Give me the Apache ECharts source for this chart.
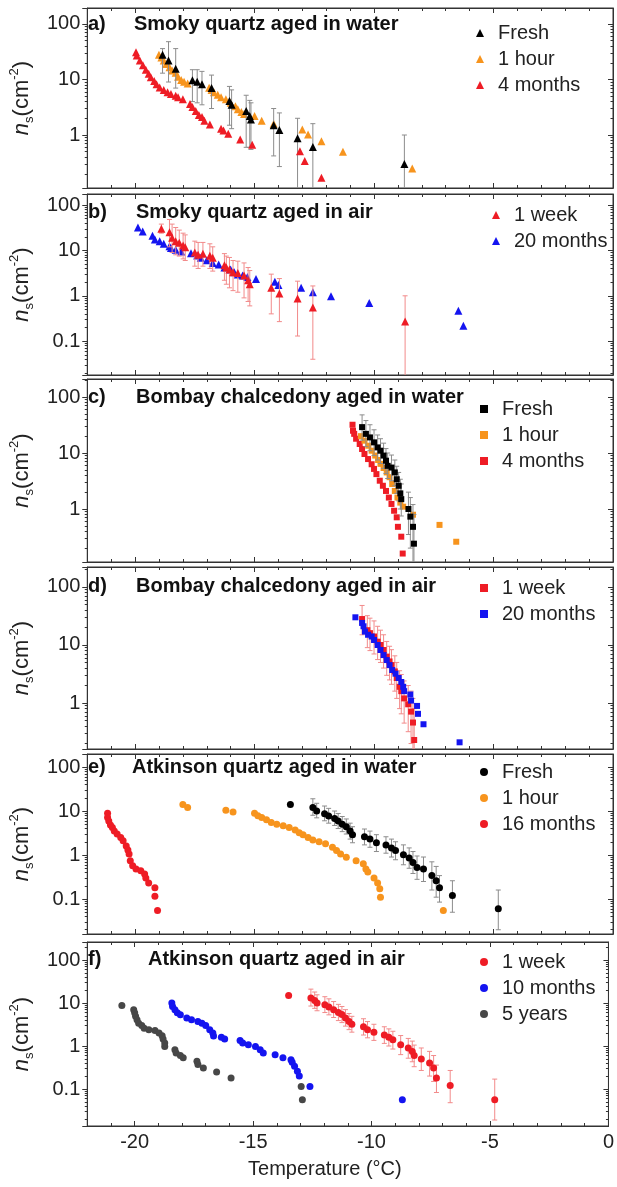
<!DOCTYPE html>
<html><head><meta charset="utf-8">
<script src="https://cdn.jsdelivr.net/npm/echarts@6/dist/echarts.min.js"></script>
<style>html,body{margin:0;padding:0;background:#fff}#c{width:617px;height:1187px}</style>
</head><body><div id="c"></div>
<script>
// ---------------- DATA ----------------
const xLabelValues = [-20, -15, -10, -5, 0];
const yLabelValues = [0.1, 1, 10, 100];
const panelLetters = ['a)', 'b)', 'c)', 'd)', 'e)', 'f)'];
const panelTitles = ['Smoky quartz aged in water', 'Smoky quartz aged in air', 'Bombay chalcedony aged in water',
  'Bombay chalcedony aged in air', 'Atkinson quartz aged in water', 'Atkinson quartz aged in air'];

// a) Smoky quartz aged in water  [T (°C), ns (cm^-2)]
const a_fresh = [[-18.85,28],[-18.6,22],[-18.3,15.6],[-17.6,9.7],[-17.4,9.1],[-17.2,8.2],[-16.8,7.0],[-16.05,4.1],[-15.96,3.5],[-15.35,2.7],[-15.2,2.2],[-15.15,1.9],[-14.2,1.5],[-13.96,1.23],[-13.2,0.87],[-12.56,0.61],[-8.73,0.3]];
const a_fresh_err = [[13,36],[9,48],[7,36],[4,15],[3.8,15],[3.5,14],[3,12],[1.5,7.5],[1.3,6.5],[0.6,5.2],[0.6,4.2],[0.55,3.8],[0.42,3.0],[0.27,2.5],[0.05,2.0],[0.05,1.6],[0.05,1.0]];
const a_1hour = [[-19.0,28],[-18.9,25],[-18.8,22],[-18.7,19],[-18.56,16.6],[-18.45,14.5],[-18.3,13.2],[-18.2,11.2],[-18.07,9.8],[-17.95,9.1],[-17.8,8.5],[-16.9,7.1],[-16.8,6.5],[-16.7,5.9],[-16.54,5.3],[-16.4,4.8],[-16.2,4.4],[-16.0,3.8],[-15.8,3.3],[-15.7,2.9],[-15.55,2.6],[-15.44,2.4],[-15.0,2.2],[-14.7,1.8],[-14.2,1.6],[-13.0,1.26],[-12.76,1.02],[-12.2,0.77],[-11.3,0.5],[-8.4,0.25]];
const a_4months = [[-19.96,31],[-19.93,27],[-19.8,22],[-19.67,18],[-19.55,15],[-19.43,12.7],[-19.34,11],[-19.2,9.4],[-19.1,8.2],[-18.97,7.2],[-18.8,6.5],[-18.64,5.9],[-18.5,5.5],[-18.3,5.1],[-18.2,4.8],[-18.0,4.4],[-17.7,3.6],[-17.6,3.2],[-17.46,2.7],[-17.33,2.3],[-17.2,2.1],[-17.1,1.8],[-16.87,1.55],[-16.4,1.3],[-16.3,1.2],[-16.1,1.05],[-15.6,0.83],[-15.1,0.67],[-13.1,0.51],[-12.9,0.34],[-12.2,0.17]];

// b) Smoky quartz aged in air
const b_1week = [[-18.9,30],[-18.56,25],[-18.45,19],[-18.3,16],[-18.15,14.7],[-17.99,12.8],[-17.9,11.7],[-17.5,9],[-17.36,8],[-17.16,8.4],[-16.87,7.6],[-16.75,6.9],[-16.26,4.7],[-16.18,4.2],[-16.05,3.8],[-15.9,3.3],[-15.7,3.2],[-15.44,2.8],[-15.27,2.2],[-15.2,1.8],[-14.3,1.5],[-13.96,1.12],[-13.2,0.87],[-12.56,0.55],[-8.7,0.27]];
const b_1week_err = [[24,38],[12,48],[9,38],[8,32],[7.5,28],[6.5,24],[6,22],[4.5,16],[4,15],[4.5,15],[4,14],[3.5,12],[2.2,8.5],[1.8,7.5],[1.5,7],[1.3,6],[1.2,5.8],[0.9,5.3],[0.75,4.2],[0.6,3.6],[0.4,3.0],[0.27,2.4],[0.13,2.1],[0.04,1.65],[0.005,1.0]];
const b_20months = [[-19.88,32],[-19.68,26],[-19.27,21],[-19.17,17.5],[-18.97,16],[-18.8,14],[-18.56,12.3],[-18.5,11.3],[-18.3,10.4],[-18.07,9.5],[-17.66,8.7],[-17.4,7.7],[-17.25,6.9],[-17.0,6.1],[-16.75,5.3],[-16.5,4.9],[-16.26,4.2],[-16.0,3.8],[-15.85,3.3],[-15.7,2.95],[-15.5,2.8],[-15.3,2.6],[-14.94,2.35],[-14.15,2.05],[-14.0,1.74],[-13.05,1.5],[-12.56,1.2],[-11.8,0.98],[-10.2,0.69],[-6.47,0.47],[-6.26,0.22]];

// c) Bombay chalcedony aged in water
const c_fresh = [[-10.5,29],[-10.34,22],[-10.17,19],[-10.0,15.5],[-9.85,12.6],[-9.73,11],[-9.6,9],[-9.5,7.3],[-9.43,5.9],[-9.27,5.5],[-9.13,4.5],[-9.05,3.4],[-8.97,2.6],[-8.9,1.9],[-8.86,1.5],[-8.56,1.0],[-8.48,0.73],[-8.37,0.48],[-8.33,0.24]];
const c_fresh_err = [[17,48],[13,38],[11,32],[9,26],[7.5,21],[6.5,18],[5.3,15],[4.3,12],[3.5,10],[3.2,9.2],[2.6,7.5],[1.9,5.8],[1.4,4.5],[1.0,3.4],[0.75,2.8],[0.35,2.0],[0.2,1.6],[0.1,1.2],[0.03,0.8]];
const c_1hour = [[-10.55,20],[-10.4,16.6],[-10.24,13.5],[-10.1,11],[-9.95,9],[-9.83,7.5],[-9.73,6.4],[-9.6,5.4],[-9.47,4.5],[-9.35,3.7],[-9.24,2.8],[-9.13,2.1],[-9.02,1.6],[-8.9,1.3],[-8.78,1.1],[-8.37,0.79],[-7.26,0.52],[-6.56,0.26]];
const c_4months = [[-10.9,32],[-10.88,25],[-10.83,22],[-10.75,18],[-10.6,14.5],[-10.5,11.8],[-10.4,9.6],[-10.25,7.8],[-10.1,6.3],[-10.0,5.2],[-9.9,4.2],[-9.76,3.2],[-9.63,2.6],[-9.5,2.1],[-9.38,1.6],[-9.27,1.23],[-9.16,0.93],[-9.05,0.71],[-9.0,0.48],[-8.86,0.32],[-8.8,0.16]];

// d) Bombay chalcedony aged in air
const d_1week = [[-10.5,28],[-10.28,18],[-10.17,16],[-10.0,14],[-9.85,11.4],[-9.73,10],[-9.6,8.2],[-9.47,6.3],[-9.35,5.2],[-9.27,4.5],[-9.13,3.5],[-9.05,2.7],[-8.93,1.9],[-8.86,1.6],[-8.74,1.2],[-8.57,0.95],[-8.45,0.71],[-8.37,0.46],[-8.32,0.23]];
const d_1week_err = [[15,48],[9,32],[8,29],[7,26],[5.6,21],[5,18],[4,15],[3,11.5],[2.5,9.5],[2.1,8.3],[1.6,6.5],[1.2,5],[0.8,3.6],[0.65,3.1],[0.45,2.4],[0.32,2.0],[0.2,1.6],[0.1,1.2],[0.04,0.8]];
const d_20months = [[-10.78,30],[-10.5,24],[-10.44,21],[-10.38,17],[-10.25,15],[-10.1,14],[-10.0,12.2],[-9.85,10],[-9.73,8.2],[-9.6,6.7],[-9.47,5.5],[-9.35,4.5],[-9.24,3.7],[-9.1,3.2],[-8.97,2.7],[-8.86,2.3],[-8.78,1.9],[-8.74,1.6],[-8.48,1.4],[-8.45,1.1],[-8.2,0.89],[-8.16,0.65],[-7.93,0.43],[-6.42,0.21]];

// e) Atkinson quartz aged in water
const e_fresh = [[-13.5,14],[-12.56,12],[-12.4,10],[-12.07,8.7],[-11.9,7.7],[-11.65,6.8],[-11.5,5.9],[-11.33,5],[-11.16,4.4],[-11.0,3.5],[-10.9,2.9],[-10.4,2.6],[-10.17,2.3],[-9.9,1.9],[-9.5,1.7],[-9.27,1.45],[-9.1,1.26],[-8.77,1.02],[-8.53,0.85],[-8.37,0.68],[-8.2,0.52],[-7.93,0.48],[-7.58,0.34],[-7.4,0.26],[-7.26,0.18],[-6.72,0.12],[-4.8,0.06]];
const e_fresh_err = [null,[8,19],[7,15],[6,13],[5.3,11.5],[4.7,10],[4,8.8],[3.4,7.5],[3,6.6],[2.3,5.3],[1.9,4.4],[1.7,3.9],[1.5,3.5],[1.2,2.9],[1.1,2.6],[0.9,2.3],[0.78,2.0],[0.6,1.7],[0.5,1.45],[0.38,1.2],[0.28,0.95],[0.25,0.9],[0.16,0.7],[0.11,0.55],[0.085,0.34],[0.05,0.26],[0.02,0.16]];
const e_1hour = [[-18.0,14],[-17.8,12],[-16.2,10.4],[-15.9,9.5],[-15.0,8.9],[-14.86,7.8],[-14.7,7.1],[-14.5,6.3],[-14.3,5.5],[-14.07,5],[-13.8,4.6],[-13.55,4.2],[-13.3,3.7],[-13.13,3.2],[-12.97,2.9],[-12.76,2.5],[-12.56,2.2],[-12.3,2.0],[-12.03,1.8],[-11.74,1.5],[-11.57,1.26],[-11.4,1.05],[-11.16,0.89],[-10.75,0.74],[-10.45,0.63],[-10.34,0.48],[-10.26,0.41],[-10.0,0.3],[-9.85,0.23],[-9.76,0.17],[-9.73,0.11],[-7.1,0.055]];
const e_16months = [[-21.15,8.9],[-21.15,7.1],[-21.1,5.9],[-21.03,4.8],[-20.95,4.2],[-20.87,3.5],[-20.75,3.0],[-20.6,2.5],[-20.5,2.1],[-20.37,1.6],[-20.3,1.3],[-20.25,1.05],[-20.2,0.74],[-20.1,0.57],[-19.96,0.48],[-19.76,0.44],[-19.6,0.37],[-19.55,0.3],[-19.43,0.23],[-19.17,0.18],[-19.17,0.115],[-19.06,0.055]];

// f) Atkinson quartz aged in air
const f_1week = [[-13.5,15],[-12.56,13],[-12.4,11.5],[-12.3,10],[-11.97,9.1],[-11.8,8.1],[-11.6,7],[-11.4,6],[-11.25,5.4],[-11.1,4.5],[-10.95,3.7],[-10.83,3.2],[-10.34,2.8],[-10.17,2.4],[-9.9,2.1],[-9.46,1.8],[-9.27,1.6],[-9.1,1.4],[-8.77,1.07],[-8.45,0.9],[-8.28,0.75],[-8.2,0.6],[-7.9,0.5],[-7.55,0.4],[-7.38,0.31],[-7.26,0.18],[-6.68,0.12],[-4.8,0.056]];
const f_1week_err = [null,[8.5,21],[7.5,18],[6.6,15.5],[6,14],[5.3,12.5],[4.6,10.8],[3.9,9.3],[3.5,8.3],[2.9,7],[2.4,5.7],[2.1,4.9],[1.8,4.3],[1.55,3.7],[1.35,3.2],[1.15,2.8],[1.0,2.5],[0.85,2.2],[0.63,1.75],[0.52,1.5],[0.43,1.3],[0.33,1.05],[0.27,0.9],[0.2,0.75],[0.15,0.6],[0.083,0.36],[0.048,0.27],[0.019,0.17]];
const f_10months = [[-18.43,10],[-18.4,8.3],[-18.3,7.0],[-18.2,5.9],[-18.07,5.3],[-17.8,4.5],[-17.6,4.1],[-17.33,3.7],[-17.16,3.4],[-17.0,3.0],[-16.83,2.4],[-16.7,2.0],[-16.67,1.7],[-16.34,1.6],[-16.2,1.45],[-15.55,1.35],[-15.44,1.17],[-15.2,1.07],[-14.9,0.98],[-14.7,0.82],[-14.57,0.69],[-14.07,0.63],[-13.74,0.53],[-13.4,0.48],[-13.35,0.42],[-13.25,0.34],[-13.13,0.26],[-13.05,0.2],[-12.6,0.115],[-8.7,0.056]];
const f_5years = [[-20.54,8.8],[-20.04,7.0],[-20.0,5.9],[-19.96,4.9],[-19.9,4.1],[-19.83,3.4],[-19.7,3.0],[-19.6,2.6],[-19.4,2.4],[-19.14,2.3],[-18.97,2.0],[-18.84,1.74],[-18.8,1.45],[-18.73,1.17],[-18.73,0.98],[-18.3,0.82],[-18.25,0.69],[-18.07,0.6],[-17.95,0.53],[-17.37,0.44],[-17.33,0.37],[-17.1,0.31],[-16.54,0.25],[-15.93,0.18],[-12.97,0.115],[-12.92,0.056]];

// ---------------- STYLE / LAYOUT ----------------
const FONT = '"Liberation Sans", Arial, Helvetica, sans-serif';
const BLACK = '#000000', ORANGE = '#F7941D', RED = '#EE1C25', BLUE = '#1414F0', GREY = '#474747';
const ERR_GREY = '#8c8c8c', ERR_RED = '#F28A8A';
const AX = '#333333';

const panels = [
  {top: 8, bottom: 188, ymin: 0.111, ymax: 194, sym: 'triangle', size: 8, titleY: 24, titleX: 134,
   legend: {left: 476, top: 22},
   series: [
     {key: 'a1', name: 'Fresh', data: a_fresh, err: a_fresh_err, color: BLACK, errColor: ERR_GREY, z: 4},
     {key: 'a2', name: '1 hour', data: a_1hour, color: ORANGE, z: 3},
     {key: 'a3', name: '4 months', data: a_4months, color: RED, z: 5}]},
  {top: 194, bottom: 375, ymin: 0.018, ymax: 175, sym: 'triangle', size: 8, titleY: 212, titleX: 136,
   legend: {left: 492, top: 204},
   series: [
     {key: 'b1', name: '1 week', data: b_1week, err: b_1week_err, color: RED, errColor: ERR_RED, z: 4},
     {key: 'b2', name: '20 months', data: b_20months, color: BLUE, z: 3}]},
  {top: 379, bottom: 562, ymin: 0.113, ymax: 210, sym: 'rect', size: 6, titleY: 397, titleX: 136,
   legend: {left: 480, top: 398},
   series: [
     {key: 'c1', name: 'Fresh', data: c_fresh, err: c_fresh_err, color: BLACK, errColor: ERR_GREY, z: 5},
     {key: 'c2', name: '1 hour', data: c_1hour, color: ORANGE, z: 4},
     {key: 'c3', name: '4 months', data: c_4months, color: RED, z: 3}]},
  {top: 567, bottom: 749, ymin: 0.161, ymax: 221, sym: 'rect', size: 6, titleY: 586, titleX: 136,
   legend: {left: 480, top: 577},
   series: [
     {key: 'd1', name: '1 week', data: d_1week, err: d_1week_err, color: RED, errColor: ERR_RED, z: 3},
     {key: 'd2', name: '20 months', data: d_20months, color: BLUE, z: 4}]},
  {top: 754, bottom: 934, ymin: 0.016, ymax: 198, sym: 'circle', size: 7, titleY: 767, titleX: 132,
   legend: {left: 480, top: 761},
   series: [
     {key: 'e1', name: 'Fresh', data: e_fresh, err: e_fresh_err, color: BLACK, errColor: ERR_GREY, z: 5},
     {key: 'e2', name: '1 hour', data: e_1hour, color: ORANGE, z: 4},
     {key: 'e3', name: '16 months', data: e_16months, color: RED, z: 3}]},
  {top: 942, bottom: 1126, ymin: 0.0138, ymax: 262, sym: 'circle', size: 7, titleY: 959, titleX: 148,
   legend: {left: 480, top: 951},
   series: [
     {key: 'f1', name: '1 week', data: f_1week, err: f_1week_err, color: RED, errColor: ERR_RED, z: 5},
     {key: 'f2', name: '10 months', data: f_10months, color: BLUE, z: 4},
     {key: 'f3', name: '5 years', data: f_5years, color: GREY, z: 3}]}
];

function isIn(list, v, useLog) {
  return list.find(t => useLog ? Math.abs(Math.log10(v) - Math.log10(t)) < 1e-6 : Math.abs(v - t) < 1e-6);
}

const grid = [], xAxis = [], yAxis = [], series = [], legend = [], title = [];

panels.forEach((P, i) => {
  const last = i === panels.length - 1;
  grid.push({left: 84, right: 4, top: P.top, height: P.bottom - P.top, show: true,
    borderColor: AX, borderWidth: 1, backgroundColor: 'transparent'});
  const baseX = {type: 'value', gridIndex: i, min: -22, max: 0, splitLine: {show: false},
    axisLine: {show: true, onZero: false, lineStyle: {color: AX, width: 1}}};
  // bottom major (used by series)
  xAxis.push(Object.assign({}, baseX, {position: 'bottom', splitNumber: 5,
    axisTick: {show: true, inside: true, length: 5, lineStyle: {color: AX}},
    axisLabel: {show: last, fontSize: 20, fontFamily: FONT, color: '#222', margin: 6,
      formatter: v => (isIn(xLabelValues, v, false) !== undefined ? String(Math.round(v)) : '')},
    name: last ? 'Temperature (°C)' : '', nameLocation: 'middle', nameGap: 33,
    nameTextStyle: {fontSize: 20, fontFamily: FONT, color: '#222', padding: [0, 46, 0, 0]}}));
  // bottom minor
  xAxis.push(Object.assign({}, baseX, {position: 'bottom', interval: 1,
    axisTick: {show: true, inside: true, length: 3, lineStyle: {color: AX}}, axisLabel: {show: false}}));
  // top major
  xAxis.push(Object.assign({}, baseX, {position: 'top', splitNumber: 5,
    axisTick: {show: true, inside: true, length: 5, lineStyle: {color: AX}}, axisLabel: {show: false}}));
  // top minor
  xAxis.push(Object.assign({}, baseX, {position: 'top', interval: 1,
    axisTick: {show: true, inside: true, length: 3, lineStyle: {color: AX}}, axisLabel: {show: false}}));

  const baseY = {type: 'log', logBase: 10, gridIndex: i, min: P.ymin, max: P.ymax, splitLine: {show: false},
    axisLine: {show: true, onZero: false, lineStyle: {color: AX, width: 1}},
    minorTick: {show: true, splitNumber: 9, length: 2.5, lineStyle: {color: AX}}};
  yAxis.push(Object.assign({}, baseY, {position: 'left',
    axisTick: {show: true, inside: false, length: 5, lineStyle: {color: AX}},
    axisLabel: {fontSize: 20, fontFamily: FONT, color: '#222', margin: 7,
      formatter: v => { const m = isIn(yLabelValues, v, true); return m === undefined ? '' : String(m); }},
    name: '{i|n}{s|s}{r|(cm}{p|-2}{r|)}', nameLocation: 'middle', nameGap: 40, nameRotate: 90,
    nameTextStyle: {rich: {
      i: {fontSize: 22, fontStyle: 'italic', fontFamily: FONT, color: '#222', lineHeight: 28},
      s: {fontSize: 13, fontFamily: FONT, color: '#222', verticalAlign: 'bottom', lineHeight: 14},
      r: {fontSize: 22, fontFamily: FONT, color: '#222', lineHeight: 28},
      p: {fontSize: 13, fontFamily: FONT, color: '#222', verticalAlign: 'top', lineHeight: 14}}}}));
  yAxis.push(Object.assign({}, baseY, {position: 'right',
    axisTick: {show: true, inside: true, length: 5, lineStyle: {color: AX}}, axisLabel: {show: false}}));

  const xi = 4 * i, yi = 2 * i;
  P.series.forEach(S => {
    if (S.err) {
      series.push({type: 'custom', xAxisIndex: xi, yAxisIndex: yi, clip: true, silent: true, z: S.z - 0.5,
        encode: {x: 0, y: [1, 2]},
        data: S.err.map((e, k) => e ? [S.data[k][0], e[0], e[1]] : [S.data[k][0], '-', '-']),
        renderItem: (params, api) => {
          const lo = api.value(1), hi = api.value(2);
          if (!(lo > 0) || !(hi > 0)) return null;
          const x = api.value(0);
          const p1 = api.coord([x, lo]), p2 = api.coord([x, hi]);
          const w = 2.5;
          const st = {stroke: S.errColor, lineWidth: 1};
          return {type: 'group', children: [
            {type: 'line', shape: {x1: p1[0], y1: p1[1], x2: p2[0], y2: p2[1]}, style: st},
            {type: 'line', shape: {x1: p1[0] - w, y1: p1[1], x2: p1[0] + w, y2: p1[1]}, style: st},
            {type: 'line', shape: {x1: p2[0] - w, y1: p2[1], x2: p2[0] + w, y2: p2[1]}, style: st}]};
        }});
    }
    series.push({type: 'scatter', name: S.key + '|' + S.name, xAxisIndex: xi, yAxisIndex: yi,
      symbol: P.sym, symbolSize: P.size, z: S.z, data: S.data,
      itemStyle: {color: S.color, opacity: 1}});
  });
  legend.push({orient: 'vertical', left: P.legend.left, top: P.legend.top, padding: 0, itemGap: 4,
    itemWidth: 8, itemHeight: 8, selectedMode: false,
    data: P.series.map(S => S.key + '|' + S.name),
    formatter: n => n.split('|')[1],
    textStyle: {fontSize: 20, fontFamily: FONT, color: '#222', lineHeight: 22, padding: [0, 0, 0, 9]}});
  title.push({text: panelLetters[i], left: 88, top: P.titleY - 11, padding: 0,
    textStyle: {fontSize: 20, fontWeight: 'bold', fontFamily: FONT, color: '#111', lineHeight: 22}});
  title.push({text: panelTitles[i], left: P.titleX, top: P.titleY - 11, padding: 0,
    textStyle: {fontSize: 20, fontWeight: 'bold', fontFamily: FONT, color: '#111', lineHeight: 22}});
});

const chart = echarts.init(document.getElementById('c'), null, {renderer: 'canvas'});
chart.setOption({animation: false, backgroundColor: '#ffffff', grid, xAxis, yAxis, series, legend, title});
</script></body></html>
